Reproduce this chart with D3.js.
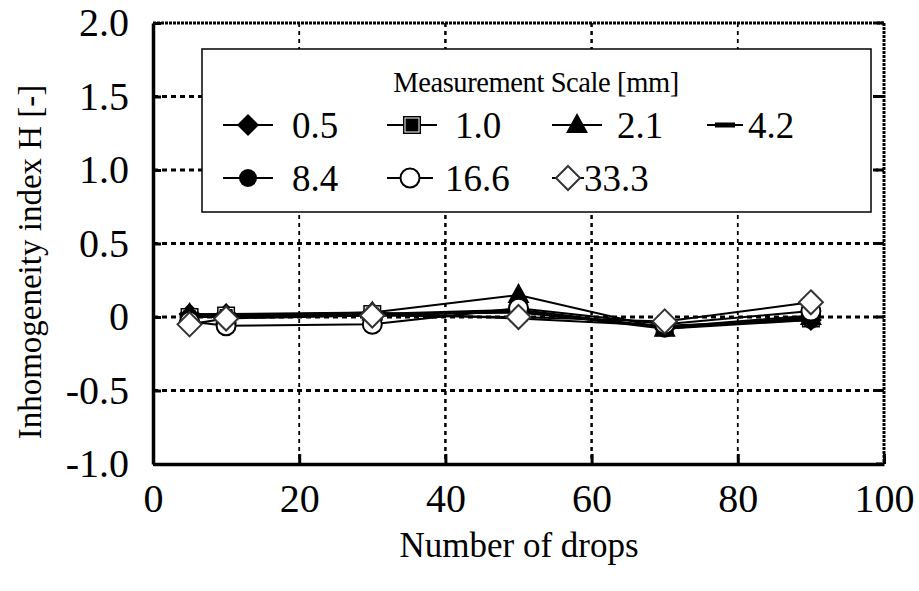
<!DOCTYPE html>
<html><head><meta charset="utf-8">
<script src="https://cdn.jsdelivr.net/npm/d3@7"></script>
<style>
body{margin:0;background:#fff}
text{font-family:"Liberation Serif","Times New Roman",serif;fill:#000}
</style>
</head><body>
<svg id="chart" width="919" height="591"></svg>
<script>
// Number of drops on the x axis
const drops = [5, 10, 30, 50, 70, 90];
// Measurement scales [mm], one series each
const scaleNames = ["0.5", "1.0", "2.1", "4.2", "8.4", "16.6", "33.3"];
const h_0_5  = [0.02, 0.02, 0.03, -0.01, -0.06, -0.02];
const h_1_0  = [0.00, 0.01, 0.02, 0.03, -0.07, -0.01];
const h_2_1  = [0.02, 0.01, 0.03, 0.15, -0.08, 0.00];
const h_4_2  = [0.01, 0.00, 0.02, 0.05, -0.07, 0.01];
const h_8_4  = [0.00, 0.00, 0.01, 0.04, -0.08, -0.02];
const h_16_6 = [-0.03, -0.06, -0.05, 0.06, -0.05, 0.04];
const h_33_3 = [-0.05, -0.01, 0.01, 0.00, -0.03, 0.10];
const seriesValues = [h_0_5, h_1_0, h_2_1, h_4_2, h_8_4, h_16_6, h_33_3];
const xTicks = [0, 20, 40, 60, 80, 100];
const yTicks = [-1.0, -0.5, 0, 0.5, 1.0, 1.5, 2.0];
const yTickLabels = ["-1.0", "-0.5", "0", "0.5", "1.0", "1.5", "2.0"];

const svg = d3.select("#chart");
const L = 153, R = 884, T = 23, B = 464;
const x = d3.scaleLinear().domain([0, 100]).range([L, R]);
const y = d3.scaleLinear().domain([-1, 2]).range([B, T]);

// grid lines
const g = svg.append("g");
xTicks.filter(v => v > 0 && v < 100).forEach(v => {
  g.append("line").attr("x1", x(v)).attr("x2", x(v)).attr("y1", T).attr("y2", B)
    .attr("stroke", "#000").attr("stroke-width", (v === 40 || v === 60) ? 2.5 : 1.8)
    .attr("stroke-dasharray", "4,4");
});
yTicks.filter(v => v > -1 && v < 2).forEach(v => {
  g.append("line").attr("x1", L).attr("x2", R).attr("y1", y(v)).attr("y2", y(v))
    .attr("stroke", "#000").attr("stroke-width", 3)
    .attr("stroke-dasharray", "5,4");
});
// top and right frame (dotted), left and bottom axes (solid)
g.append("line").attr("x1", L).attr("x2", R).attr("y1", T).attr("y2", T)
  .attr("stroke", "#000").attr("stroke-width", 3).attr("stroke-dasharray", "3,1");
g.append("line").attr("x1", R).attr("x2", R).attr("y1", T).attr("y2", B)
  .attr("stroke", "#000").attr("stroke-width", 3).attr("stroke-dasharray", "3,1");

// axes via d3 with inward ticks
const xAxis = d3.axisBottom(x).tickValues(xTicks).tickSizeInner(-10).tickSizeOuter(0)
  .tickFormat(d3.format("d")).tickPadding(20);
const gx = svg.append("g").attr("transform", `translate(0,${B})`).call(xAxis);
gx.select(".domain").attr("stroke", "#000").attr("stroke-width", 3.5);
gx.selectAll(".tick line").attr("stroke", "#000").attr("stroke-width", 3);
gx.selectAll(".tick text").style("font-family", "Liberation Serif").style("font-size", "40px");

const yAxis = d3.axisLeft(y).tickValues(yTicks).tickSizeInner(-8).tickSizeOuter(0)
  .tickFormat((d, i) => yTickLabels[i]).tickPadding(24);
const gy = svg.append("g").attr("transform", `translate(${L},0)`).call(yAxis);
gy.select(".domain").attr("stroke", "#000").attr("stroke-width", 3.5);
gy.selectAll(".tick line").attr("stroke", "#000").attr("stroke-width", 3);
gy.selectAll(".tick text").style("font-family", "Liberation Serif").style("font-size", "40px");

// inward ticks on right frame
yTicks.forEach(v => {
  svg.append("line").attr("x1", R - 8).attr("x2", R).attr("y1", y(v)).attr("y2", y(v))
    .attr("stroke", "#000").attr("stroke-width", 3);
});

// axis titles
svg.append("text").attr("x", 519).attr("y", 557).attr("text-anchor", "middle")
  .style("font-size", "35px").text("Number of drops");
svg.append("text").attr("transform", "translate(41,262) rotate(-90)").attr("text-anchor", "middle")
  .style("font-size", "33px").text("Inhomogeneity index H [-]");

// marker drawing
function marker(sel, idx, cx, cy) {
  const gg = sel.append("g").attr("transform", `translate(${cx},${cy})`);
  switch (idx) {
    case 0: gg.append("path").attr("d", "M0,-11L11,0L0,11L-11,0Z").attr("fill", "#000"); break;
    case 1:
      gg.append("rect").attr("x", -9).attr("y", -9).attr("width", 18).attr("height", 18).attr("fill", "#000");
      gg.append("rect").attr("x", -7).attr("y", -7).attr("width", 14).attr("height", 14)
        .attr("fill", "none").attr("stroke", "#fff").attr("stroke-width", 1);
      break;
    case 2: gg.append("path").attr("d", "M0,-12L11,8L-11,8Z").attr("fill", "#000"); break;
    case 3: gg.append("rect").attr("x", -10).attr("y", -2.5).attr("width", 20).attr("height", 5).attr("fill", "#000"); break;
    case 4: gg.append("circle").attr("r", 9).attr("fill", "#000"); break;
    case 5: gg.append("circle").attr("r", 9.5).attr("fill", "#fff").attr("stroke", "#000").attr("stroke-width", 2); break;
    case 6: gg.append("path").attr("d", "M0,-12L12,0L0,12L-12,0Z").attr("fill", "#fff")
      .attr("stroke", "#333").attr("stroke-width", 2); break;
  }
}

const line = d3.line().x((d, i) => x(drops[i])).y(d => y(d));
const plot = svg.append("g");
seriesValues.forEach(vals => {
  plot.append("path").attr("d", line(vals)).attr("fill", "none")
    .attr("stroke", "#000").attr("stroke-width", 2);
});
seriesValues.forEach((vals, si) => {
  vals.forEach((v, i) => marker(plot, si, x(drops[i]), y(v)));
});

// legend
const lg = svg.append("g");
lg.append("rect").attr("x", 202).attr("y", 49).attr("width", 669).attr("height", 163)
  .attr("fill", "#fff").attr("stroke", "#000").attr("stroke-width", 1.5);
lg.append("text").attr("x", 536).attr("y", 92).attr("text-anchor", "middle")
  .style("font-size", "28.5px").style("letter-spacing", "-0.4px").text("Measurement Scale [mm]");
const legendLayout = [
  {cx: 248, y: 125, half: 25, tx: 292},
  {cx: 412, y: 125, half: 25, tx: 455},
  {cx: 577, y: 125, half: 25, tx: 617},
  {cx: 725, y: 125, half: 18, tx: 748},
  {cx: 248, y: 178, half: 25, tx: 292},
  {cx: 410, y: 178, half: 23, tx: 445},
  {cx: 568, y: 178, half: 16, tx: 584}
];
scaleNames.forEach((name, i) => {
  const p = legendLayout[i];
  lg.append("line").attr("x1", p.cx - p.half).attr("x2", p.cx + p.half).attr("y1", p.y).attr("y2", p.y)
    .attr("stroke", "#000").attr("stroke-width", 2);
  marker(lg, i, p.cx, p.y);
  lg.append("text").attr("x", p.tx).attr("y", p.y + 13).style("font-size", "37px").text(name);
});
</script>
</body></html>
